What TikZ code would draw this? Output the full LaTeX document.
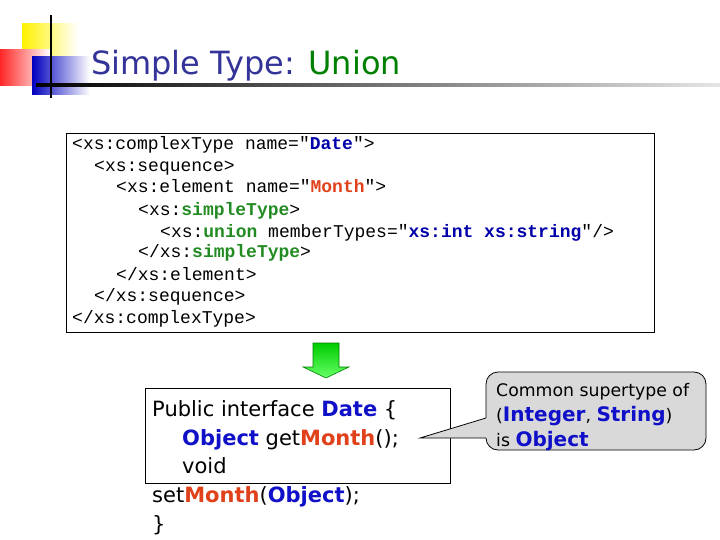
\documentclass[tikz,border=0pt]{standalone}
\usepackage{fontspec}
\setmainfont{DejaVu Sans}
\setmonofont{Liberation Mono}
\usetikzlibrary{shapes.geometric}
\definecolor{ttl}{HTML}{333399}
\definecolor{grn}{HTML}{008000}
\definecolor{kblue}{HTML}{0000AA}
\definecolor{kred}{HTML}{E0401A}
\definecolor{kgreen}{HTML}{228B22}
\definecolor{jblue}{HTML}{1010C8}
\tikzset{
  codeline/.style={anchor=base west, inner sep=0pt, font=\ttfamily\fontsize{18}{18}\selectfont},
  javaline/.style={anchor=base west, inner sep=0pt, font=\fontsize{21}{21}\selectfont},
  noteline/.style={anchor=base west, inner sep=0pt, font=\fontsize{17.3}{17.3}\selectfont},
}
\begin{document}
\begin{tikzpicture}[x=1pt,y=-1pt]
\useasboundingbox (0,0) rectangle (720,540);
% title decoration
\fill[left color=yellow!90!orange, right color=white] (22,24) rectangle (78,72);
\fill[left color=red!85, right color=white] (0,50) rectangle (50,86);
\fill[left color=blue!75!black, right color=white] (32,57) rectangle (90,95);
\draw[line width=2pt] (51,15) -- (51,98);
\shade[left color=black, right color=gray!20] (36,84) rectangle (720,87);
\node[anchor=base west, inner sep=0pt, font=\fontsize{32}{32}\selectfont, text=ttl] (title) at (91,75) {Simple Type: \textcolor{grn}{Union}};
% code box
\node[draw, line width=0.8pt, minimum width=588pt, minimum height=199pt, anchor=north west] (code) at (66,133) {};
\node[codeline] (c1) at (72,150) {<xs:complexType name="\textbf{\textcolor{kblue}{Date}}">};
\node[codeline] (c2) at (94,172) {<xs:sequence>};
\node[codeline] (c3) at (116,193) {<xs:element name="\textbf{\textcolor{kred}{Month}}">};
\node[codeline] (c4) at (138,215) {<xs:\textbf{\textcolor{kgreen}{simpleType}}>};
\node[codeline] (c5) at (160,237) {<xs:\textbf{\textcolor{kgreen}{union}} memberTypes="\textbf{\textcolor{kblue}{xs:int xs:string}}"/>};
\node[codeline] (c6) at (138,258) {</xs:\textbf{\textcolor{kgreen}{simpleType}}>};
\node[codeline] (c7) at (116,280) {</xs:element>};
\node[codeline] (c8) at (94,301) {</xs:sequence>};
\node[codeline] (c9) at (72,323) {</xs:complexType>};
% green arrow
\shade[top color=green!80!black, bottom color=green!60, draw=green!50!black, line width=0.6pt]
  (313,343) -- (339,343) -- (339,367) -- (349,367) -- (326,378) -- (303,367) -- (313,367) -- cycle;
% java box
\node[draw, line width=0.8pt, minimum width=305pt, minimum height=95pt, anchor=north west] (java) at (145,388) {};
\node[javaline] (j1) at (152,416) {Public interface \textbf{\textcolor{jblue}{Date}} \{};
\node[javaline] (j2) at (182,445) {\textbf{\textcolor{jblue}{Object}} get\textbf{\textcolor{kred}{Month}}();};
\node[javaline] (j3) at (182,473) {void};
\node[javaline] (j4) at (152,502) {set\textbf{\textcolor{kred}{Month}}(\textbf{\textcolor{jblue}{Object}});};
\node[javaline] (j5) at (152,531) {\}};
% callout
\coordinate (tip) at (420,438);
\draw[fill=gray!30, line width=0.8pt, rounded corners=12pt]
  (486,418) -- (486,372) -- (706,372) -- (706,450) -- (486,450) -- (486,438);
\fill[gray!30] (488,418) -- (tip) -- (488,438) -- cycle;
\draw[line width=0.8pt] (486,418) -- (tip) -- (486,438);
\node[noteline] (n1) at (496,396) {Common supertype of};
\node[noteline] (n2) at (496,421) {(\textcolor{jblue}{\fontsize{20}{20}\selectfont\textbf{Integer}}, \textcolor{jblue}{\fontsize{20}{20}\selectfont\textbf{String}})};
\node[noteline] (n3) at (496,446) {is \textcolor{jblue}{\fontsize{20}{20}\selectfont\textbf{Object}}};
\end{tikzpicture}
\end{document}
